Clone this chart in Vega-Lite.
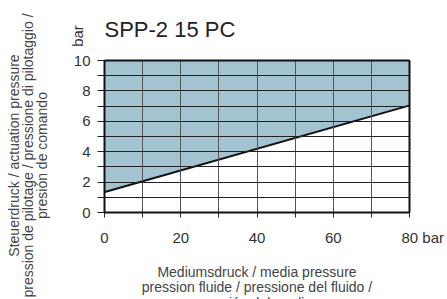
{
  "$schema": "https://vega.github.io/schema/vega-lite/v6.json",
  "width": 305,
  "height": 152,
  "autosize": {"type": "none"},
  "padding": {"left": 104, "top": 60, "right": 38, "bottom": 87},
  "config": {
    "view": {"stroke": null},
    "axis": {
      "domainColor": "#111111",
      "domainWidth": 2,
      "tickColor": "#222222",
      "tickWidth": 1,
      "gridWidth": 1,
      "labelFont": "Liberation Sans",
      "labelFontSize": 15,
      "labelColor": "#333333",
      "labelFlush": false,
      "labelOverlap": false,
      "labelBound": false,
      "titleFont": "Liberation Sans",
      "titleFontSize": 14,
      "titleFontWeight": "normal",
      "titleColor": "#444444"
    }
  },
  "resolve": {"axis": {"x": "independent", "y": "independent"}},
  "data": {"values": [{"medium": 0, "steuer": 1.3}, {"medium": 80, "steuer": 7.0}]},
  "layer": [
    {
      "mark": {"type": "area", "color": "#a3c3d1", "opacity": 1},
      "encoding": {
        "x": {
          "field": "medium",
          "type": "quantitative",
          "scale": {"domain": [0, 80], "nice": false},
          "axis": {
            "orient": "bottom",
            "zindex": 1,
            "grid": true,
            "tickCount": 20,
            "format": "d",
            "values": [0, 10, 20, 30, 40, 50, 60, 70, 80],
            "labelExpr": "datum.value == 80 ? '80  bar' : (datum.value % 20 == 0 ? datum.label : '')",
            "labelAlign": {"condition": {"test": "datum.value == 80", "value": "left"}, "value": "center"},
            "labelOffset": {"condition": {"test": "datum.value == 80", "value": -8}, "value": 0},
            "tickSize": 5,
            "labelPadding": 13,
            "gridColor": "#555555",
            "title": ["Mediumsdruck / media pressure", "pression fluide / pressione del fluido /", "presión del medio"],
            "titleBaseline": "alphabetic",
            "titleY": 64,
            "titleLineHeight": 15.6
          }
        },
        "y": {
          "field": "steuer",
          "type": "quantitative",
          "scale": {"domain": [0, 10], "nice": false},
          "axis": {
            "orient": "left",
            "zindex": 1,
            "grid": true,
            "tickCount": 20,
            "format": "d",
            "values": [0, 1, 2, 3, 4, 5, 6, 7, 8, 9, 10],
            "labelExpr": "datum.value % 2 == 0 ? datum.label : ''",
            "tickSize": 7,
            "labelPadding": 7,
            "gridColor": "#222222",
            "title": ["Steuerdruck / actuation pressure", "pression de pilotage / pressione di pilotaggio /", "presión de comando"],
            "titleAngle": 270,
            "titleAlign": "center",
            "titleBaseline": "alphabetic",
            "titleX": -85.5,
            "titleY": 95,
            "titleLineHeight": 14
          }
        },
        "y2": {"datum": 10}
      }
    },
    {
      "mark": {"type": "line", "color": "#111111", "strokeWidth": 2},
      "encoding": {
        "x": {"field": "medium", "type": "quantitative", "axis": null},
        "y": {"field": "steuer", "type": "quantitative", "axis": null}
      }
    },
    {
      "mark": {"type": "line", "opacity": 0},
      "encoding": {
        "x": {
          "field": "medium",
          "type": "quantitative",
          "axis": {
            "orient": "top",
            "zindex": 2,
            "grid": false,
            "labels": false,
            "ticks": false,
            "title": "SPP-2 15 PC",
            "titleFont": "Liberation Sans",
            "titleFontSize": 22,
            "titleColor": "#222222",
            "titleAlign": "left",
            "titleBaseline": "alphabetic",
            "titleAngle": 0,
            "titleX": 0,
            "titleY": -24
          }
        },
        "y": {
          "field": "steuer",
          "type": "quantitative",
          "axis": {
            "orient": "right",
            "zindex": 2,
            "grid": false,
            "labels": false,
            "ticks": false,
            "title": null
          }
        }
      }
    },
    {
      "data": {"values": [{"unit": "bar"}]},
      "mark": {
        "type": "text",
        "angle": 270,
        "align": "center",
        "baseline": "middle",
        "font": "Liberation Sans",
        "fontSize": 15,
        "color": "#333333",
        "dx": 24,
        "dy": -26
      },
      "encoding": {
        "text": {"field": "unit"},
        "x": {"datum": 0, "axis": null},
        "y": {"datum": 10, "axis": null}
      }
    }
  ]
}
